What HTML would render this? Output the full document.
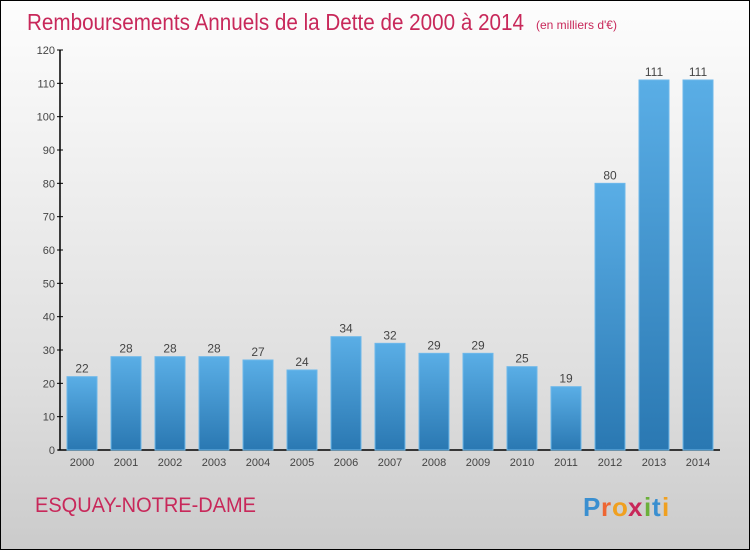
<!DOCTYPE html>
<html><head><meta charset="utf-8"><style>
html,body{margin:0;padding:0}
body{width:750px;height:550px;overflow:hidden;font-family:"Liberation Sans",sans-serif}
#wrap{position:absolute;left:0;top:0;width:748px;height:548px;border:1px solid #000;background:linear-gradient(#fdfdfd,#f0f0f0 30%,#dedede 70%,#cbcbcb)}
svg{position:absolute;left:0;top:0}
</style></head><body>
<div id="wrap"></div>
<svg id="chart" width="750" height="550">
<defs><linearGradient id="bg" x1="0" y1="0" x2="0" y2="1"><stop offset="0" stop-color="#5aaee6"/><stop offset="1" stop-color="#2a78b2"/></linearGradient></defs>
<text x="27" y="30" font-size="23" fill="#c8285a" textLength="497" lengthAdjust="spacingAndGlyphs">Remboursements Annuels de la Dette de 2000 à 2014</text>
<text x="536" y="29" font-size="12" fill="#c8285a">(en milliers d'€)</text>
<text x="35" y="512" font-size="21" fill="#c8285a" textLength="221" lengthAdjust="spacingAndGlyphs">ESQUAY-NOTRE-DAME</text>
<g font-size="26" font-weight="bold" font-family="'Liberation Sans',sans-serif">
<text x="583" y="516" fill="#3a8fd0">P</text><text x="601" y="516" fill="#e63">r</text><text x="612" y="516" fill="#f0a020">o</text><text x="628" y="516" fill="#c8285a">x</text><text x="644" y="516" fill="#6bb03a">i</text><text x="652" y="516" fill="#3a8fd0">t</text><text x="662" y="516" fill="#f0a020">i</text>
</g>
<g id="axes"></g><g id="bars"></g>
</svg>
<script>
const categories=["2000","2001","2002","2003","2004","2005","2006","2007","2008","2009","2010","2011","2012","2013","2014"];
const values=[22,28,28,28,27,24,34,32,29,29,25,19,80,111,111];
const yTicks=[0,10,20,30,40,50,60,70,80,90,100,110,120];
const NS="http://www.w3.org/2000/svg";
const y0=450,yTop=50,yMax=120;
const y=v=>y0-(v/yMax)*(y0-yTop);
const x=i=>82+i*44;
const bw=30;
const axes=document.getElementById('axes'),bars=document.getElementById('bars');
function mk(tag,attrs,parent){const e=document.createElementNS(NS,tag);for(const k in attrs)e.setAttribute(k,attrs[k]);parent.appendChild(e);return e;}
let l=mk('line',{x1:60,y1:yTop,x2:60,y2:y0,stroke:'#000','stroke-width':1.5},axes);


l=mk('line',{x1:58,y1:y0,x2:720,y2:y0,stroke:'#000','stroke-width':1.5},axes);


yTicks.forEach(t=>{
 mk('line',{x1:57,y1:y(t),x2:63,y2:y(t),stroke:'#000'},axes);
 const tx=mk('text',{x:55,y:y(t)+4,'font-size':11,fill:'#444','text-anchor':'end'},axes);
 tx.textContent=t;
 
 
});
categories.forEach((c,i)=>{
 const r=mk('rect',{x:x(i)-bw/2,y:y(values[i]),width:bw,height:y0-y(values[i]),fill:'url(#bg)',stroke:'#6db8ea','stroke-width':1},bars);
 
 
 const v=mk('text',{x:x(i),y:y(values[i])-4,'font-size':12,fill:'#444','text-anchor':'middle'},bars);
 v.textContent=values[i];
 
 
 const lb=mk('text',{x:x(i),y:466,'font-size':11,fill:'#444','text-anchor':'middle'},bars);
 lb.textContent=c;
 
 
});
</script>
</body></html>
